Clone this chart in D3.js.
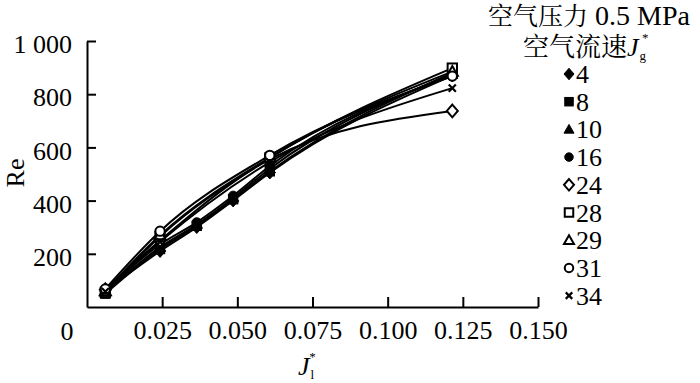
<!DOCTYPE html>
<html lang="en">
<head>
<meta charset="utf-8">
<script src="https://cdn.jsdelivr.net/npm/d3@7"></script>
<style>
  body { margin: 0; background: #fff; }
</style>
</head>
<body>
<svg id="chart"></svg>
<script>
const width = 700, height = 383;

// liquid superficial velocity J_l* (x values)
const xFull = [0.0061, 0.0243, 0.0365, 0.0486, 0.0608, 0.1215];
const xShort = [0.0061, 0.0243, 0.0608, 0.1215];

// air velocity J_g* series labels
const seriesNames = ["4", "8", "10", "16", "24", "28", "29", "31", "34"];
const seriesSymbols = ["diamondF", "squareF", "triangleF", "circleF", "diamondO", "squareO", "triangleO", "circleO", "cross"];

// Re values
const re4  = [60, 210, 300, 400, 505, 870];
const re8  = [50, 218, 305, 405, 510, 880];
const re10 = [55, 225, 310, 410, 520, 875];
const re16 = [62, 235, 318, 418, 530, 868];
const re24 = [65, 250, 555, 737];
const re28 = [55, 265, 560, 898];
const re29 = [60, 270, 562, 885];
const re31 = [68, 285, 570, 868];
const re34 = [58, 245, 545, 823];

const seriesValues = [re4, re8, re10, re16, re24, re28, re29, re31, re34];

const xTicks = [0.025, 0.050, 0.075, 0.100, 0.125, 0.150];
const yTicks = [200, 400, 600, 800, 1000];

const serif = "Liberation Serif";
const cjk = "Noto Serif CJK SC";

const svg = d3.select("#chart")
    .attr("width", width)
    .attr("height", height)
    .attr("font-family", serif);

const x = d3.scaleLinear().domain([0, 0.15]).range([87, 538]);
const y = d3.scaleLinear().domain([0, 1000]).range([307, 41]);

// axes
const yAxis = svg.append("g")
    .attr("transform", "translate(87,0)")
    .call(d3.axisLeft(y)
        .tickValues(yTicks)
        .tickSizeInner(-9)
        .tickSizeOuter(0)
        .tickPadding(15)
        .tickFormat(d => d === 1000 ? "1 000" : d));

const xAxis = svg.append("g")
    .attr("transform", "translate(0,307)")
    .call(d3.axisBottom(x)
        .tickValues(xTicks)
        .tickSizeInner(-10)
        .tickSizeOuter(0)
        .tickPadding(14)
        .tickFormat(d3.format(".3f")));

[yAxis, xAxis].forEach(g => {
    g.attr("font-family", serif).attr("font-size", 26);
    g.selectAll("path, line").attr("stroke", "#000").attr("stroke-width", 2);
    g.selectAll("text").attr("fill", "#000").attr("font-family", serif);
});
yAxis.selectAll("text").attr("dy", "0.45em");

// the shared origin label
svg.append("text")
    .attr("x", 67).attr("y", 340)
    .attr("text-anchor", "middle")
    .attr("font-family", serif)
    .attr("font-size", 26)
    .text("0");

// axis titles
svg.append("text")
    .attr("transform", "translate(24,173) rotate(-90)")
    .attr("text-anchor", "middle")
    .attr("font-family", serif)
    .attr("font-size", 26)
    .text("Re");

const xt = svg.append("text")
    .attr("x", 298).attr("y", 375)
    .attr("font-family", serif)
    .attr("font-size", 26);
xt.append("tspan").attr("font-style", "italic").text("J");
xt.append("tspan").attr("font-size", 13).attr("dx", 1).attr("dy", 4).text("l");
xt.append("tspan").attr("font-size", 13).attr("dx", -5).attr("dy", -18).text("*");

// symbols
function drawSymbol(g, type, cx, cy, s) {
    const filled = type.endsWith("F");
    const fill = filled ? "#000" : "#fff";
    const sw = filled ? 1 : 2;
    const r = s / 2;
    if (type.startsWith("diamond")) {
        g.append("path")
            .attr("d", `M${cx},${cy - r * 1.15}L${cx + r},${cy}L${cx},${cy + r * 1.15}L${cx - r},${cy}Z`)
            .attr("fill", fill).attr("stroke", "#000").attr("stroke-width", sw);
    } else if (type.startsWith("square")) {
        const h = r * 0.85;
        g.append("rect")
            .attr("x", cx - h).attr("y", cy - h).attr("width", 2 * h).attr("height", 2 * h)
            .attr("fill", fill).attr("stroke", "#000").attr("stroke-width", sw);
    } else if (type.startsWith("triangle")) {
        g.append("path")
            .attr("d", `M${cx},${cy - r}L${cx + r},${cy + r * 0.75}L${cx - r},${cy + r * 0.75}Z`)
            .attr("fill", fill).attr("stroke", "#000").attr("stroke-width", sw);
    } else if (type.startsWith("circle")) {
        g.append("circle")
            .attr("cx", cx).attr("cy", cy).attr("r", r * 0.85)
            .attr("fill", fill).attr("stroke", "#000").attr("stroke-width", sw);
    } else {
        const h = r * 0.65;
        g.append("path")
            .attr("d", `M${cx - h},${cy - h}L${cx + h},${cy + h}M${cx - h},${cy + h}L${cx + h},${cy - h}`)
            .attr("stroke", "#000").attr("stroke-width", 2.2);
    }
}

// curves
const line = d3.line()
    .x(d => x(d[0]))
    .y(d => y(d[1]))
    .curve(d3.curveMonotoneX);

const plot = svg.append("g");

seriesValues.forEach((vals, i) => {
    const xs = vals.length === 6 ? xFull : xShort;
    const pts = vals.map((v, j) => [xs[j], v]);
    plot.append("path")
        .datum(pts)
        .attr("d", line)
        .attr("fill", "none")
        .attr("stroke", "#000")
        .attr("stroke-width", 2);
});

seriesValues.forEach((vals, i) => {
    const xs = vals.length === 6 ? xFull : xShort;
    vals.forEach((v, j) => drawSymbol(plot, seriesSymbols[i], x(xs[j]), y(v), 11));
});

// legend
const legend = svg.append("g");
const t1 = legend.append("text").attr("x", 488).attr("y", 25)
    .attr("font-family", serif).attr("font-size", 28);
t1.append("tspan").attr("font-family", cjk).attr("font-size", 25).text("空气压力");
t1.append("tspan").attr("font-family", serif).text(" 0.5 MPa");

const t2 = legend.append("text").attr("x", 523).attr("y", 56)
    .attr("font-family", serif).attr("font-size", 26);
t2.append("tspan").attr("font-family", cjk).text("空气流速");
t2.append("tspan").attr("font-family", serif).attr("font-style", "italic").text("J");
t2.append("tspan").attr("font-family", serif).attr("font-size", 13).attr("dx", 1).attr("dy", 4).text("g");
t2.append("tspan").attr("font-family", serif).attr("font-size", 13).attr("dx", -4).attr("dy", -18).text("*");

seriesNames.forEach((name, i) => {
    const cy = 74 + i * 27.7;
    drawSymbol(legend, seriesSymbols[i], 569, cy, 10);
    legend.append("text")
        .attr("x", 576).attr("y", cy + 9)
        .attr("font-family", serif)
        .attr("font-size", 26)
        .text(name);
});
</script>
</body>
</html>
